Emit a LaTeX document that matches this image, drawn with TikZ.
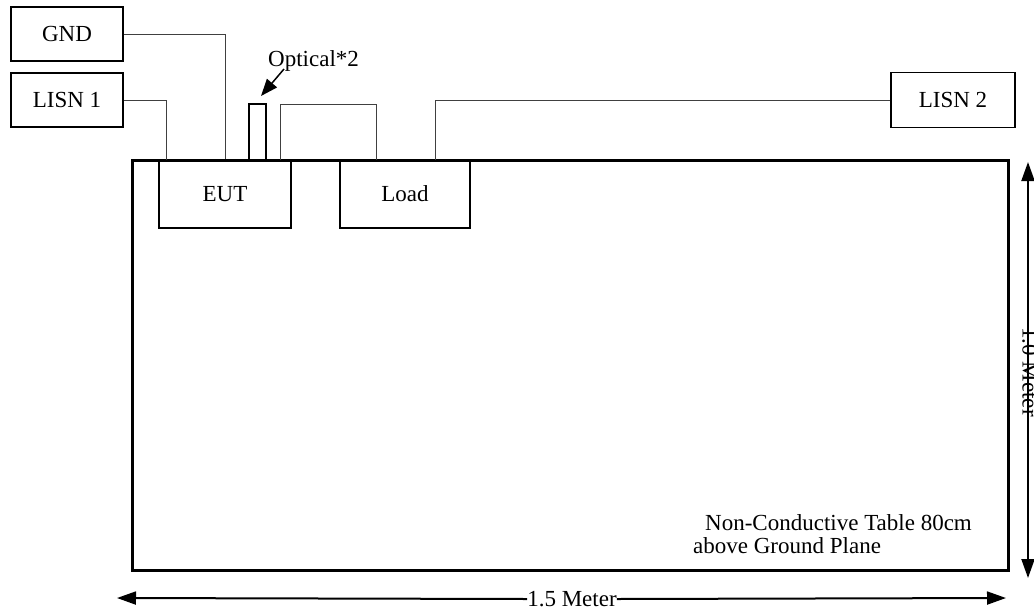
\documentclass[tikz,border=0pt]{standalone}
\usepackage{fontspec}
\setmainfont{Liberation Serif}
\usetikzlibrary{arrows.meta}
\begin{document}
\begin{tikzpicture}[x=1pt,y=-1pt,
  every node/.style={font=\fontsize{23}{27}\selectfont, inner sep=0pt},
  box/.style={draw=black, line width=1.3pt, minimum width=#1},
  wire/.style={draw=black!75, line width=1pt},
  dim/.style={line width=2pt},
  tip/.style={-{Triangle[length=19pt,width=13pt]}}]
\useasboundingbox (0,0) rectangle (1034,614);
% table
\node[draw, line width=3pt, minimum width=876pt, minimum height=410pt] (table) at (570,365) {};
% boxes
\node[box=112pt, minimum height=54pt] (gnd) at (67,34) {GND};
\node[box=112pt, minimum height=54pt] (lisn1) at (67,100) {LISN 1};
\node[box=124pt, minimum height=55pt] (lisn2) at (953,100) {LISN 2};
\node[box=132pt, minimum height=68pt] (eut) at (225,194) {EUT};
\node[box=130pt, minimum height=68pt] (load) at (405,194) {Load};
\node[draw=black, line width=1.2pt, minimum width=17pt, minimum height=56pt] (opt) at (257.5,132) {};
% connectors
\coordinate (l1) at (166,160);
\coordinate (l2) at (435,160);
\coordinate (c1) at (280,160);
\coordinate (c1t) at (280,104);
\coordinate (c2) at (376,160);
\draw[wire] (gnd.east) -| (eut.north);
\draw[wire] (lisn1.east) -| (l1);
\draw[wire] (lisn2.west) -| (l2);
\draw[wire] (c1) -- (c1t) -| (c2);
% optical label
\node[anchor=base west] (optl) at (268,66) {Optical*2};
\coordinate (oa) at (284,69);
\coordinate (ob) at (261,96);
\draw[line width=1.5pt, -{Triangle[length=17pt,width=13pt]}] (oa) -- (ob);
% table text
\node[anchor=base west] (t1) at (705,530) {Non-Conductive Table 80cm};
\node[anchor=base west] (t2) at (693,553) {above Ground Plane};
% dimensions
\node (w) at (572,599) {1.5 Meter};
\coordinate (wl) at (117,598);
\coordinate (wr) at (1006,598);
\draw[dim, tip] (w.west) -- (wl);
\draw[dim, tip] (w.east) -- (wr);
\node[rotate=-90] (h) at (1030,372) {1.0 Meter};
\coordinate (ht) at (1028,162);
\coordinate (hb) at (1028,578);
\draw[dim, tip] (1028,0 |- h.east) -- (ht);
\draw[dim, tip] (1028,0 |- h.west) -- (hb);
\end{tikzpicture}
\end{document}
